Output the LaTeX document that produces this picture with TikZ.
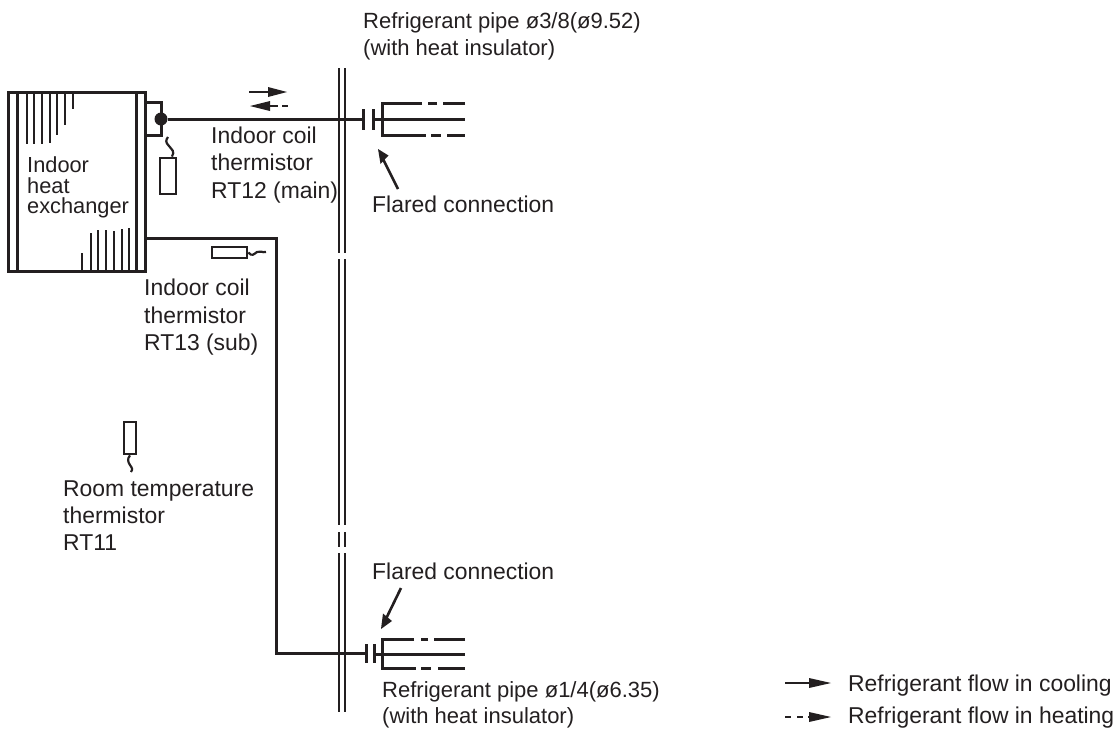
\documentclass[tikz,border=0pt]{standalone}
\usepackage{fontspec}
\usetikzlibrary{calc}
\setmainfont{Liberation Sans}
\definecolor{ink}{HTML}{231F20}
\tikzset{
  pipe/.style={draw=ink,line width=3pt},
  thin pipe/.style={draw=ink,line width=2.2pt},
  fin/.style={draw=ink,line width=2.7pt},
  sensor/.style={draw=ink,line width=2.7pt,fill=white,rectangle,inner sep=0pt,minimum width=#1},
  wiggle/.style={draw=ink,line width=2.2pt},
  label/.style={anchor=base west,inner sep=0pt,text=ink,font=\fontsize{22.9pt}{27pt}\selectfont},
  pipelabel/.style={label,font=\fontsize{22pt}{27pt}\selectfont},
  hxlabel/.style={label,font=\fontsize{21.8pt}{21pt}\selectfont},
  marrow/.style={draw=ink,line width=2.6pt}
}
\begin{document}
\begin{tikzpicture}[x=1pt,y=-1pt]
\useasboundingbox (0,0) rectangle (1118,734);
% heat exchanger
\node[draw=ink,line width=3pt,rectangle,inner sep=0pt,minimum width=137pt,minimum height=179pt] (hx) at (76.5,181.5) {};
\draw[fin] (17.5,92) -- (17.5,271);
\draw[fin] (136.5,92) -- (136.5,271);
\foreach \x/\y in {27/144,34/144,42/144,50/143,57/135,65/125,73/109}{\draw[fin] (\x,92) -- (\x,\y);}
\foreach \x/\y in {82/253,91/233,98/230,106/230,114/231,122/229,129/228}{\draw[fin] (\x,271) -- (\x,\y);}
\node[hxlabel] (hxl1) at (27,172) {Indoor};
\node[hxlabel] (hxl2) at (27,193) {heat};
\node[hxlabel] (hxl3) at (27,213) {exchanger};
% header and upper pipe
\draw[pipe] (145,102) -- (161,102) -- (161,135) -- (145,135);
\node[circle,fill=ink,inner sep=0pt,minimum size=13pt] (joint) at (161,119) {};
\coordinate (bar1) at (363,119);
\draw[pipe] (joint) -- (bar1);
% wall
\foreach \x in {339,345}{
  \draw[thin pipe] (\x,68) -- (\x,253);
  \draw[thin pipe] (\x,259) -- (\x,525);
  \draw[thin pipe] (\x,532) -- (\x,547);
  \draw[thin pipe] (\x,553) -- (\x,712);
}
% upper flare
\draw[pipe] (363,109) -- (363,130);
\draw[pipe] (373,109) -- (373,130);
\draw[pipe] (373,119) -- (465,119);
\draw[pipe] (465,103) -- (443,103) (437,103) -- (428,103) (422,103) -- (382,103) -- (382,135) -- (426,135) (431,135) -- (441,135) (447,135) -- (465,135);
% lower flare
\coordinate (exit) at (145,238);
\coordinate (corner1) at (276.5,238);
\coordinate (corner2) at (276.5,653);
\coordinate (bar2) at (366,653);
\draw[pipe] (exit) -- (corner1) -- (corner2) -- (bar2);
\draw[pipe] (366,644) -- (366,663);
\draw[pipe] (374,644) -- (374,663);
\draw[pipe] (374,654) -- (465,654);
\draw[pipe] (465,639) -- (434,639) (428,639) -- (421,639) (414,639) -- (382,639) -- (382,668) -- (416,668) (421,668) -- (431,668) (438,668) -- (465,668);
% thermistors
\node[sensor=16pt,minimum height=36pt] (rt12) at (168,176) {};
\draw[wiggle] ($(rt12.north)+(4,0)$) .. controls (175,151) and (172,150) .. (169,146) .. controls (165,142) and (166,140) .. (168,137);
\node[sensor=35pt,minimum height=11pt] (rt13) at (229.5,252.5) {};
\draw[wiggle] (rt13.east) .. controls (252,257) and (254,254) .. (257,252) .. controls (260,250) and (262,253) .. (266,252);
\node[sensor=12pt,minimum height=32pt] (rt11) at (130,438) {};
\draw[wiggle] (rt11.south) .. controls (127,459) and (128,462) .. (130,465) .. controls (132,468) and (133,469) .. (131,472);
% flow arrows
\draw[marrow] (249,92) -- (270,92);
\fill[ink] (287,92) -- (268,87) -- (268,97) -- cycle;
\fill[ink] (250,106) -- (270,101) -- (270,111) -- cycle;
\draw[marrow] (270,106) -- (278,106) (282,106) -- (288,106);
% flared arrows
\coordinate (fa1) at (398,189);
\coordinate (ft1) at (378,149);
\draw[marrow] (fa1) -- ($(ft1)!0.2!(fa1)$);
\fill[ink] (ft1) -- (380.5,164) -- (388.5,155.5) -- cycle;
\coordinate (fa2) at (401,588);
\coordinate (ft2) at (381,629);
\draw[marrow] (fa2) -- ($(ft2)!0.2!(fa2)$);
\fill[ink] (ft2) -- (383,613.5) -- (392,621) -- cycle;
% legend
\draw[marrow] (785,683) -- (812,683);
\fill[ink] (831,683) -- (809,678) -- (809,688) -- cycle;
\draw[marrow] (785,717) -- (791,717) (797,717) -- (803,717) (808,717) -- (812,717);
\fill[ink] (831,717) -- (809,712) -- (809,722) -- cycle;
% texts
\node[pipelabel] (t1) at (363,28) {Refrigerant pipe ø3/8(ø9.52)};
\node[pipelabel] (t2) at (363,55) {(with heat insulator)};
\node[label] (t3) at (211,143) {Indoor coil};
\node[label] (t4) at (211,170) {thermistor};
\node[label] (t5) at (211,198) {RT12 (main)};
\node[label] (t6) at (372,212) {Flared connection};
\node[label] (t7) at (144,295) {Indoor coil};
\node[label] (t8) at (144,323) {thermistor};
\node[label] (t9) at (144,350) {RT13 (sub)};
\node[label] (t10) at (63,496) {Room temperature};
\node[label] (t11) at (63,523) {thermistor};
\node[label] (t12) at (63,550) {RT11};
\node[label] (t13) at (372,579) {Flared connection};
\node[pipelabel] (t14) at (382,697) {Refrigerant pipe ø1/4(ø6.35)};
\node[pipelabel] (t15) at (382,723) {(with heat insulator)};
\node[label] (t16) at (848,691) {Refrigerant flow in cooling};
\node[label] (t17) at (848,723) {Refrigerant flow in heating};
\end{tikzpicture}
\end{document}
